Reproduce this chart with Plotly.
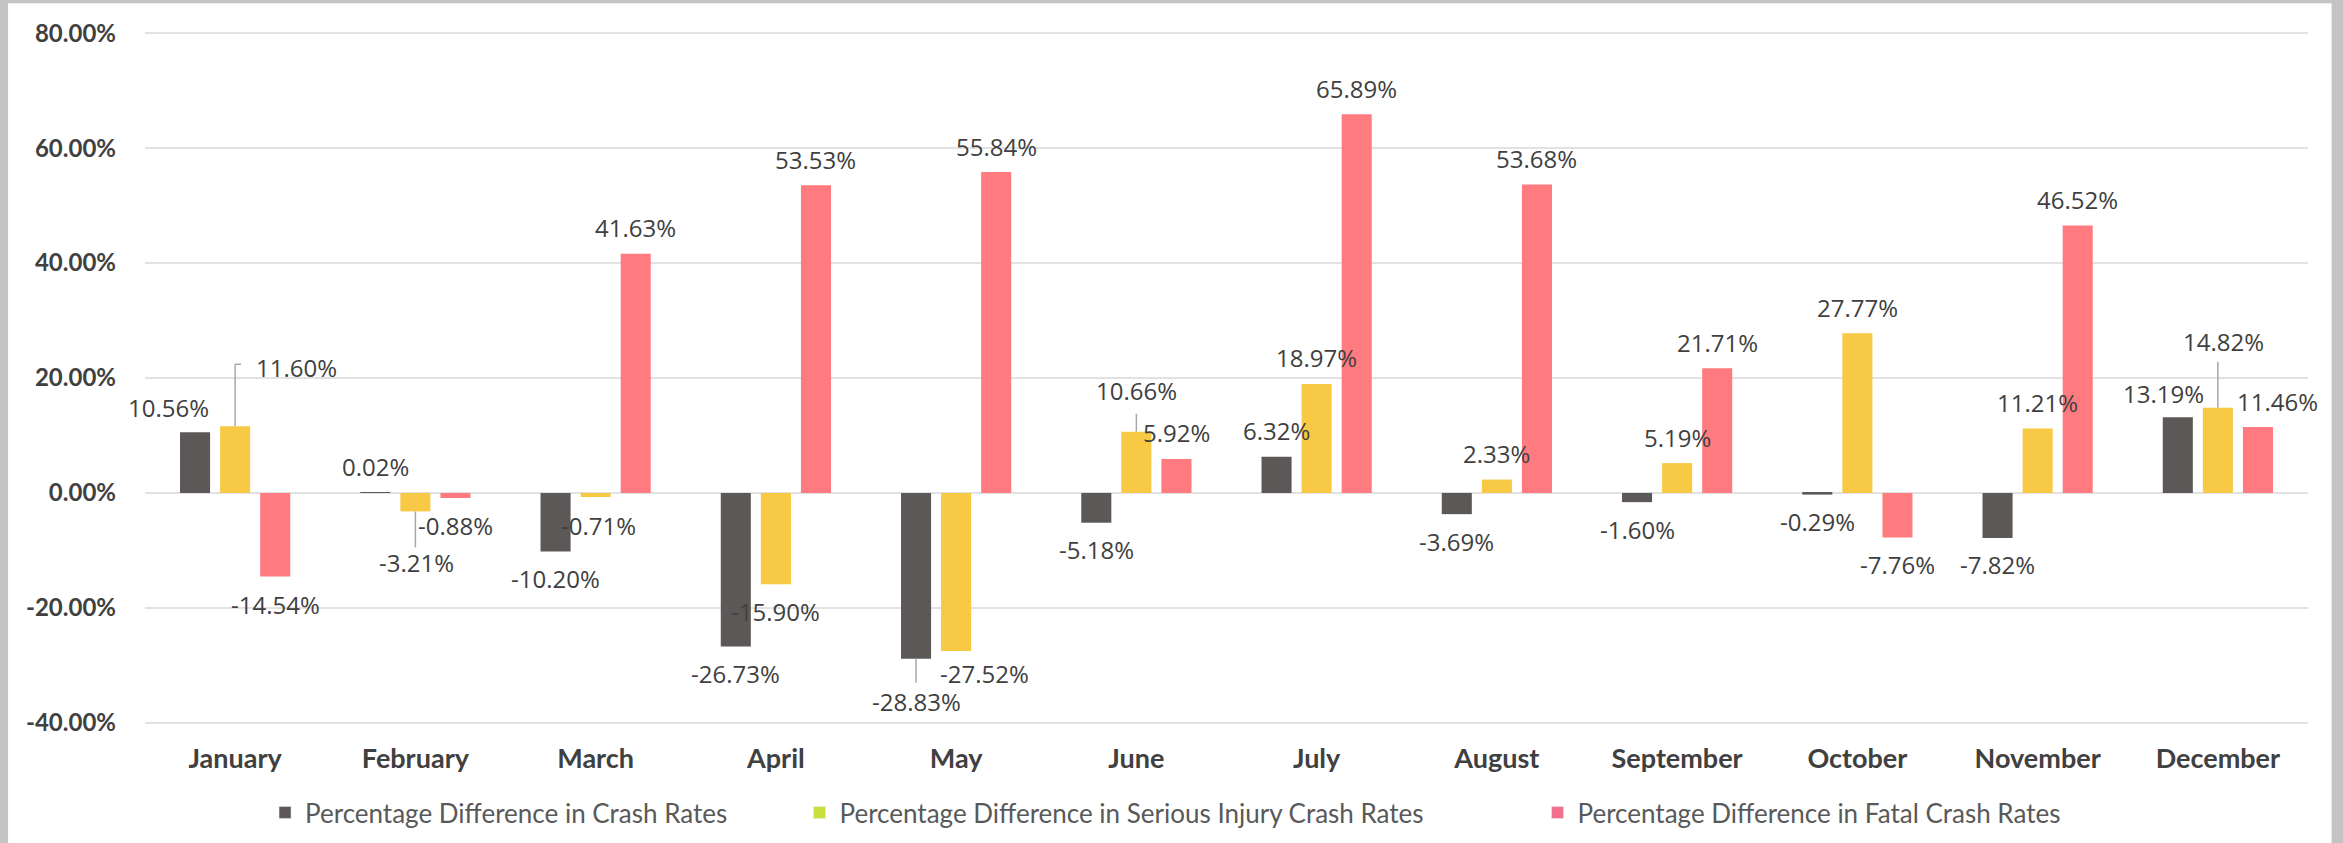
import plotly.graph_objects as go

MONTHS = ["January", "February", "March", "April", "May", "June", "July",
          "August", "September", "October", "November", "December"]
CRASH = [10.56, 0.02, -10.20, -26.73, -28.83, -5.18, 6.32, -3.69, -1.60, -0.29, -7.82, 13.19]
SERIOUS = [11.60, -3.21, -0.71, -15.90, -27.52, 10.66, 18.97, 2.33, 5.19, 27.77, 11.21, 14.82]
FATAL = [-14.54, -0.88, 41.63, 53.53, 55.84, 5.92, 65.89, 53.68, 21.71, -7.76, 46.52, 11.46]
NAMES = ["Percentage Difference in Crash Rates",
         "Percentage Difference in Serious Injury Crash Rates",
         "Percentage Difference in Fatal Crash Rates"]
Y_TICKS = [-40, -20, 0, 20, 40, 60, 80]

BAR_COLORS = ["#5d5858", "#f8c945", "#ff7b80"]
LEGEND_COLORS = ["#5d5858", "#c9df3e", "#f2708c"]
SERIES = [CRASH, SERIOUS, FATAL]

# label placement tweaks (pixels): (series, month) -> (dx, dy)
LABEL_SHIFT = {
    (0, 0): (-27, 25), (1, 0): (61, 59), (2, 0): (0, -28),
    (1, 1): (1, -51),
    (1, 2): (3, -28),
    (0, 4): (0, -43), (1, 4): (28, -22),
    (1, 5): (0, 41),
    (0, 11): (-14, 24), (1, 11): (6, 66), (2, 11): (20, 26),
}
# leader lines: (series, month) -> (pixel length, signed), foot length
LEADERS = {(1, 0): (62, 6), (1, 1): (-36, 0), (0, 4): (-24, 0),
           (1, 5): (18, 0), (1, 11): (46, 0)}

GROUP_OFFSETS = [-2 / 9, 0, 2 / 9]
LEGEND_X = [0.0555, 0.3026, 0.6438]
LEGEND_KEYS = ["legend", "legend2", "legend3"]

fig = go.Figure()
for s, vals in enumerate(SERIES):
    fig.add_trace(go.Bar(x=MONTHS, y=vals, name=NAMES[s], marker_color=BAR_COLORS[s],
                         marker_line_width=0, showlegend=False, offsetgroup=str(s)))
for s in range(3):
    fig.add_trace(go.Bar(x=[MONTHS[0]], y=[None], name=NAMES[s], offsetgroup=str(s),
                         marker_color=LEGEND_COLORS[s], showlegend=True,
                         legend=LEGEND_KEYS[s]))

annotations = []
shapes = []
for s, vals in enumerate(SERIES):
    for i, v in enumerate(vals):
        dx, dy = LABEL_SHIFT.get((s, i), (0, 26 if v >= 0 else -27))
        annotations.append(dict(
            x=i + GROUP_OFFSETS[s], y=v, xref="x", yref="y",
            text=f"{v:.2f}%", showarrow=False, xshift=dx, yshift=dy,
            font=dict(family="Open Sans", size=24, color="#404040")))
        if (s, i) in LEADERS:
            length, foot = LEADERS[(s, i)]
            xpos = i + GROUP_OFFSETS[s]
            shapes.append(dict(type="line", xref="x", yref="y", ysizemode="pixel",
                               yanchor=v, x0=xpos, x1=xpos, y0=0, y1=length,
                               line=dict(color="#a8a8a8", width=1.5)))
            if foot:
                shapes.append(dict(type="line", xref="x", yref="y", ysizemode="pixel",
                                   xsizemode="pixel", xanchor=xpos, yanchor=v,
                                   x0=0, x1=foot, y0=length, y1=length,
                                   line=dict(color="#a8a8a8", width=1.5)))

# white panel on grey frame
shapes.append(dict(type="rect", xref="paper", yref="paper", x0=-0.0633, x1=1.0109,
                   y0=-0.25, y1=1.0417, fillcolor="white", line_width=0, layer="below"))

legend_style = dict(orientation="h", y=-0.128, yanchor="middle", xanchor="left",
                    font=dict(family="Lato", size=26, color="#595959"),
                    bgcolor="rgba(0,0,0,0)", itemwidth=30)

fig.update_layout(
    width=2343, height=843,
    paper_bgcolor="#c4c4c4", plot_bgcolor="white",
    margin=dict(l=145, r=35, t=32, b=119, autoexpand=False),
    barmode="group", bargap=0.333, bargroupgap=0.25,
    annotations=annotations, shapes=shapes,
    legend=dict(legend_style, x=LEGEND_X[0]),
    legend2=dict(legend_style, x=LEGEND_X[1]),
    legend3=dict(legend_style, x=LEGEND_X[2]),
    xaxis=dict(type="category", range=[-0.5, 11.5], showgrid=False, showline=False,
               ticks="",
               tickfont=dict(family="Lato", size=27, color="#404040", weight="bold"),
               ticklabelstandoff=16),
    yaxis=dict(range=[-40.2, 80.2], tickvals=Y_TICKS,
               ticktext=[f"{t:.2f}%" for t in Y_TICKS],
               showgrid=True, gridcolor="#e2e2e2", gridwidth=1.5,
               zeroline=True, zerolinecolor="#e2e2e2", zerolinewidth=1.5,
               showline=False, ticks="", ticklabelstandoff=28,
               tickfont=dict(family="Lato", size=24, color="#404040", weight="bold")),
)

fig.write_html("out.html", config={"displayModeBar": False},
               post_script="document.body.style.margin='0';")
